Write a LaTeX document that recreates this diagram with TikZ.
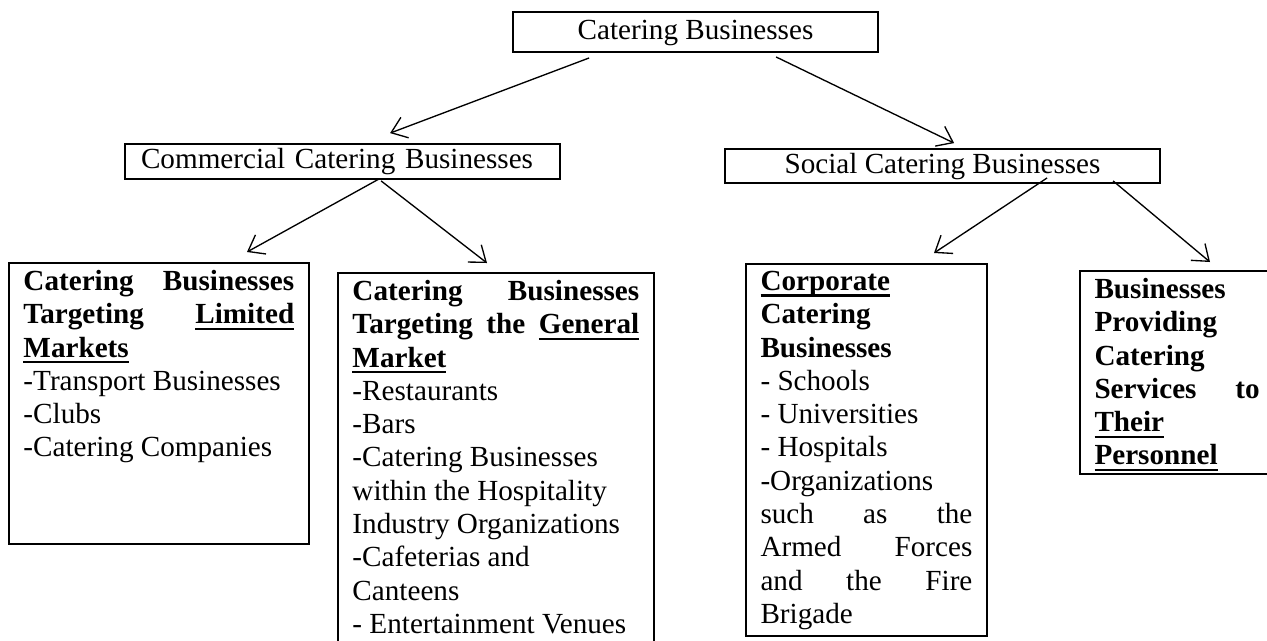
\documentclass[tikz,border=0pt]{standalone}
\usepackage{fontspec}
\setmainfont{Liberation Serif}
\usetikzlibrary{arrows.meta}

% word underline at a fixed depth below the baseline
\newcommand{\uword}[1]{\setbox0\hbox{#1}\rlap{\rule[-2.6pt]{\wd0}{1pt}}\box0}

\begin{document}
\begin{tikzpicture}[x=0.4115pt,y=-0.4115pt,>=Latex,
font=\fontsize{12}{13.7}\selectfont,
head/.style={draw,line width=0.75pt,inner sep=0pt,text height=8.5pt,text depth=2.5pt},
list/.style={draw,line width=0.75pt,anchor=north west,inner xsep=6pt,inner ysep=3pt},
arr/.style={-{Straight Barb[length=6pt,width=9pt]},line width=0.55pt}]
\useasboundingbox (0,0) rectangle (1267,640);

% top levels
\node[head,minimum width=150.2pt,minimum height=16.5pt] (top) at (695.5,32) {Catering Businesses};
\node[head,minimum height=14.4pt,text width=165.8pt,inner xsep=6.6pt,align=left] (com) at (342.5,161.5) {Commercial Catering Businesses};
\node[head,minimum width=179pt,minimum height=14pt] (soc) at (942.5,166) {Social Catering Businesses};

% lists
\node[list] (lim) at (8,262) {\parbox[t][109.6pt][t]{111.4pt}{%
\textbf{Catering Businesses\linebreak Targeting \uword{Limited}\linebreak \uword{Markets}}\\
-Transport Businesses\\
-Clubs\\
-Catering Companies}};
\node[list] (gen) at (337,272) {\parbox[t][153.7pt][t]{118pt}{%
\textbf{Catering Businesses\linebreak Targeting the \uword{General}\linebreak \uword{Market}}\\
-Restaurants\\
-Bars\\
-Catering Businesses\\
within the Hospitality\\
Industry Organizations\\
-Cafeterias and\\
Canteens\\
- Entertainment Venues}};
\node[list] (corp) at (745,263) {\parbox[t][147pt][t]{87.2pt}{%
\textbf{\uword{Corporate}\\ Catering\\ Businesses}\\
- Schools\\
- Universities\\
- Hospitals\\
-Organizations\\
such as the\linebreak Armed Forces\linebreak and the Fire\linebreak Brigade}};
\node[list] (pers) at (1079,270) {\parbox[t][77.5pt][t]{68pt}{%
\textbf{Businesses\\ Providing\\ Catering\\ Services to\linebreak \uword{Their}\\ \uword{Personnel}}}};

% arrows
\draw[arr] ([shift={(77,5)}]top.south west) -- ([shift={(266,-10)}]com.north west);
\draw[arr] ([shift={(264,4)}]top.south west) -- ([shift={(230,-5)}]soc.north west);
\draw[arr] ([shift={(255,-1)}]com.south west) -- ([shift={(239,-10)}]lim.north west);
\draw[arr] ([shift={(257,1)}]com.south west) -- ([shift={(150,-9)}]gen.north west);
\draw[arr] ([shift={(323,-6)}]soc.south west) -- ([shift={(189,-10)}]corp.north west);
\draw[arr] ([shift={(389,-3)}]soc.south west) -- ([shift={(131,-8)}]pers.north west);
\end{tikzpicture}
\end{document}
